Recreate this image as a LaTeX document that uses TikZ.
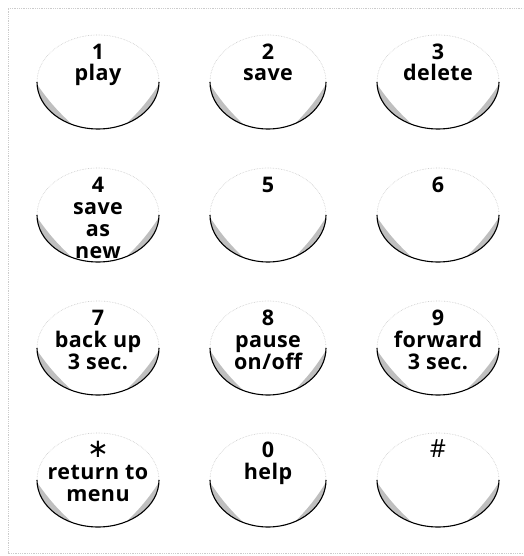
\documentclass[tikz,border=0pt]{standalone}
\usepackage{fontspec}
\setmainfont[LetterSpace=2]{Open Sans}
\newfontfamily\symfont{DejaVu Sans}
\usetikzlibrary{calc}
\newcommand\keyshape[3]{%
  \draw[keytop] ($(#1)+(#2,0)$) arc[start angle=0,end angle=180,x radius=#2,y radius=#3];
  \fill[crescent] ($(#1)+(183:#2 and #3)$) arc[start angle=183,end angle=245,x radius=#2,y radius=#3]
     to[bend left=6] ($(#1)+(183:#2 and #3)$);
  \fill[crescent] ($(#1)+(298:#2 and #3)$) arc[start angle=298,end angle=357,x radius=#2,y radius=#3]
     to[bend left=6] ($(#1)+(298:#2 and #3)$);
  \draw[keyrim] ($(#1)+(-#2,0)$) arc[start angle=180,end angle=360,x radius=#2,y radius=#3];
}
\begin{document}
\begin{tikzpicture}[x=1pt,y=1pt,
  keytext/.style={font=\bfseries\fontsize{21.5}{22}\selectfont, anchor=base, inner sep=0pt},
  symtext/.style={font=\fontsize{25}{25}\selectfont, anchor=base, inner sep=0pt},
  keyrim/.style={line width=1.1pt, black},
  keytop/.style={gray!45, densely dotted, line width=0.6pt},
  crescent/.style={fill=gray!50},
  frameline/.style={gray!40, line width=0.8pt, densely dotted}]
\useasboundingbox (0,0) rectangle (523,556);
% frame
\coordinate (f1) at (8,3);
\coordinate (f2) at (8,548);
\coordinate (f3) at (523,548);
\coordinate (f4) at (523,3);
\draw[frameline] (f4) -- (f1) -- (f2) -- (f3);
% key centres
\coordinate (k1) at (98,474);  \coordinate (k2) at (268,474); \coordinate (k3) at (438,474);
\coordinate (k4) at (98,341);  \coordinate (k5) at (268,341); \coordinate (k6) at (438,341);
\coordinate (k7) at (98,208);  \coordinate (k8) at (268,208); \coordinate (k9) at (438,208);
\coordinate (ks) at (98,76);   \coordinate (k0) at (268,76);  \coordinate (kh) at (438,76);
\keyshape{k1}{61}{47}\keyshape{k2}{58}{47}\keyshape{k3}{61}{47}
\keyshape{k4}{61}{47}\keyshape{k5}{58}{47}\keyshape{k6}{61}{47}
\keyshape{k7}{61}{47}\keyshape{k8}{58}{47}\keyshape{k9}{61}{47}
\keyshape{ks}{61}{47}\keyshape{k0}{58}{47}\keyshape{kh}{61}{47}
% labels
\node[keytext] (t1a) at ($(k1)+(0,22)$) {1};
\node[keytext] (t1b) at ($(k1)+(0,1)$) {play};
\node[keytext] (t2a) at ($(k2)+(0,22)$) {2};
\node[keytext] (t2b) at ($(k2)+(0,1)$) {save};
\node[keytext] (t3a) at ($(k3)+(0,22)$) {3};
\node[keytext] (t3b) at ($(k3)+(0,1)$) {delete};
\node[keytext] (t4a) at ($(k4)+(0,22)$) {4};
\node[keytext] (t4b) at ($(k4)+(0,0)$) {save};
\node[keytext] (t4c) at ($(k4)+(0,-22)$) {as};
\node[keytext] (t4d) at ($(k4)+(0,-44)$) {new};
\node[keytext] (t5a) at ($(k5)+(0,22)$) {5};
\node[keytext] (t6a) at ($(k6)+(0,22)$) {6};
\node[keytext] (t7a) at ($(k7)+(0,22)$) {7};
\node[keytext] (t7b) at ($(k7)+(0,0)$) {back up};
\node[keytext] (t7c) at ($(k7)+(0,-22)$) {3 sec.};
\node[keytext] (t8a) at ($(k8)+(0,22)$) {8};
\node[keytext] (t8b) at ($(k8)+(0,0)$) {pause};
\node[keytext] (t8c) at ($(k8)+(0,-22)$) {on/off};
\node[keytext] (t9a) at ($(k9)+(0,22)$) {9};
\node[keytext] (t9b) at ($(k9)+(0,0)$) {forward};
\node[keytext] (t9c) at ($(k9)+(0,-22)$) {3 sec.};
\node[font=\symfont\fontsize{26}{26}\selectfont, inner sep=0pt, anchor=center] (tsa) at ($(ks)+(0,31)$) {∗};
\node[keytext] (tsb) at ($(ks)+(0,0)$) {return to};
\node[keytext] (tsc) at ($(ks)+(0,-22)$) {menu};
\node[keytext] (t0a) at ($(k0)+(0,22)$) {0};
\node[keytext] (t0b) at ($(k0)+(0,0)$) {help};
\node[symtext] (tha) at ($(kh)+(0,22)$) {\#};
\end{tikzpicture}
\end{document}
